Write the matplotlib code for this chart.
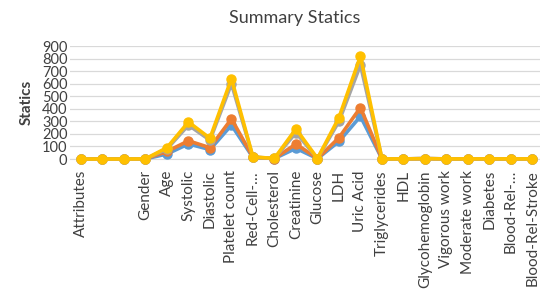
import matplotlib
matplotlib.use("Agg")
import matplotlib.pyplot as plt
import numpy as np

# categorias del eje x
atributos = ["Attributes", "", "", "Gender", "Age", "Systolic", "Diastolic",
             "Platelet count", "Red-Cell-…", "Cholesterol", "Creatinine", "Glucose",
             "LDH", "Uric Acid", "Triglycerides", "HDL", "Glycohemoglobin",
             "Vigorous work", "Moderate work", "Diabetes", "Blood-Rel-…",
             "Blood-Rel-Stroke"]

# series
serie_azul = [0, 0, 0, 1, 40, 120, 75, 270, 12, 4, 85, 3, 140, 340, 1, 1, 3, 1, 1, 1, 1, 1]
serie_naranja = [0, 0, 0, 1, 60, 145, 90, 320, 14, 4, 120, 3, 170, 410, 1, 1, 3, 1, 1, 1, 1, 1]
serie_gris = [0, 0, 0, 1, 80, 270, 150, 600, 15, 5, 210, 4, 300, 750, 1, 1, 3, 1, 1, 1, 1, 1]
serie_amarilla = [0, 0, 0, 1, 90, 295, 165, 640, 16, 5, 240, 4, 330, 820, 1, 1, 3, 1, 1, 1, 1, 1]

plt.rcParams['font.family'] = ['Lato', 'DejaVu Sans']

fig = plt.figure(figsize=(5.4, 2.95), dpi=100)
ax = fig.add_axes([0.13, 0.461, 0.87, 0.383])

x = np.arange(len(atributos))
for serie, color in [(serie_azul, "#5B9BD5"), (serie_naranja, "#ED7D31"),
                     (serie_gris, "#A5A5A5"), (serie_amarilla, "#FFC000")]:
    ax.plot(x, serie, color=color, lw=2.6, marker="o", ms=6.5, clip_on=False, zorder=3)

ax.set_xlim(-0.5, 21.35)
ax.set_ylim(0, 900)
ax.set_yticks(range(0, 901, 100))
ax.set_xticks(x)
ax.set_xticklabels(atributos, rotation=90, fontsize=11, color="#404040")
ax.tick_params(axis="y", labelsize=10.5, colors="#404040", length=0, pad=2)
ax.tick_params(axis="x", length=0, pad=8)
ax.grid(axis="y", color="#D9D9D9", lw=0.9)
ax.set_axisbelow(True)
for s in ["top", "right", "left"]:
    ax.spines[s].set_visible(False)
ax.spines["bottom"].set_color("#D9D9D9")

ax.set_ylabel("Statics", fontsize=11, fontweight="bold", color="#404040", labelpad=6)
fig.text(0.545, 0.94, "Summary Statics", ha="center", va="center", fontsize=13, color="#404040")

fig.savefig("out.png", dpi=100)
